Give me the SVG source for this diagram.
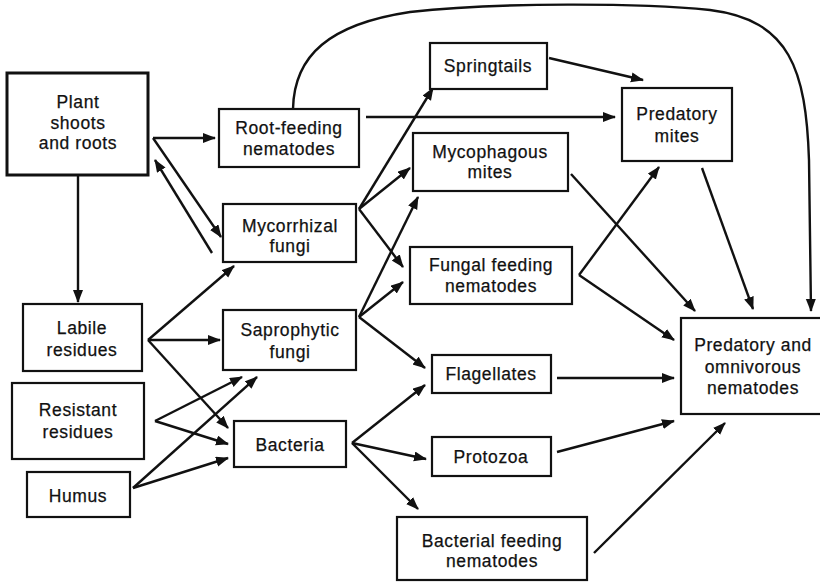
<svg xmlns="http://www.w3.org/2000/svg" width="820" height="582" viewBox="0 0 820 582">
<style>
.box{fill:#fff;stroke:#111;stroke-width:2.2}
.thick{stroke-width:3}
text{font-family:"Liberation Sans",Arial,Helvetica,sans-serif;font-size:17.5px;letter-spacing:0.6px;fill:#111;text-anchor:middle;stroke:#111;stroke-width:0.25}
.c{fill:none;stroke:#111;stroke-width:2.4}
</style>
<defs>
<marker id="ah" markerUnits="userSpaceOnUse" markerWidth="14" markerHeight="12" refX="12" refY="5" orient="auto">
<path d="M0,0 L13,5 L0,10 z" fill="#111"/>
</marker>
</defs>
<rect width="820" height="582" fill="#fff"/>
<g id="connectors">
<path class="c" d="M293,109 C294,55 330,24 410,12 C500,2 640,3 710,10 C790,20 806,70 809,160 L811,311" marker-end="url(#ah)"/>
<line class="c" x1="153" y1="138" x2="215" y2="138" marker-end="url(#ah)"/>
<line class="c" x1="153" y1="138" x2="221" y2="237" marker-end="url(#ah)"/>
<line class="c" x1="212" y1="253" x2="155" y2="160" marker-end="url(#ah)"/>
<line class="c" x1="78" y1="175" x2="78" y2="302" marker-end="url(#ah)"/>
<line class="c" x1="148" y1="340" x2="220" y2="340" marker-end="url(#ah)"/>
<line class="c" x1="148" y1="340" x2="234" y2="266" marker-end="url(#ah)"/>
<line class="c" x1="148" y1="340" x2="228" y2="428" marker-end="url(#ah)"/>
<line class="c" x1="155" y1="421" x2="242" y2="377" marker-end="url(#ah)"/>
<line class="c" x1="155" y1="421" x2="228" y2="444" marker-end="url(#ah)"/>
<line class="c" x1="133" y1="488" x2="257" y2="377" marker-end="url(#ah)"/>
<line class="c" x1="133" y1="488" x2="228" y2="458" marker-end="url(#ah)"/>
<line class="c" x1="359" y1="209" x2="433" y2="88" marker-end="url(#ah)"/>
<line class="c" x1="359" y1="209" x2="410" y2="168" marker-end="url(#ah)"/>
<line class="c" x1="359" y1="209" x2="403" y2="267" marker-end="url(#ah)"/>
<line class="c" x1="359" y1="317" x2="418" y2="197" marker-end="url(#ah)"/>
<line class="c" x1="359" y1="317" x2="403" y2="282" marker-end="url(#ah)"/>
<line class="c" x1="359" y1="317" x2="425" y2="368" marker-end="url(#ah)"/>
<line class="c" x1="352" y1="443" x2="425" y2="385" marker-end="url(#ah)"/>
<line class="c" x1="352" y1="443" x2="426" y2="459" marker-end="url(#ah)"/>
<line class="c" x1="352" y1="443" x2="418" y2="509" marker-end="url(#ah)"/>
<line class="c" x1="366" y1="117" x2="615" y2="117" marker-end="url(#ah)"/>
<line class="c" x1="549" y1="58" x2="643" y2="80" marker-end="url(#ah)"/>
<line class="c" x1="571" y1="174" x2="695" y2="311" marker-end="url(#ah)"/>
<line class="c" x1="579" y1="275" x2="659" y2="167" marker-end="url(#ah)"/>
<line class="c" x1="579" y1="275" x2="674" y2="340" marker-end="url(#ah)"/>
<line class="c" x1="702" y1="168" x2="753" y2="309" marker-end="url(#ah)"/>
<line class="c" x1="557" y1="378" x2="674" y2="378" marker-end="url(#ah)"/>
<line class="c" x1="557" y1="452" x2="674" y2="421" marker-end="url(#ah)"/>
<line class="c" x1="594" y1="553" x2="725" y2="423" marker-end="url(#ah)"/>
</g>
<g id="plant"><rect class="box thick" x="7" y="73" width="141" height="102"/><text x="78" y="108">Plant</text><text x="78" y="129">shoots</text><text x="78" y="149">and roots</text></g>
<g id="rootfeeding"><rect class="box" x="219" y="109" width="140" height="58"/><text x="289" y="134">Root-feeding</text><text x="289" y="155">nematodes</text></g>
<g id="mycorrhizal"><rect class="box" x="223" y="204" width="133" height="58"/><text x="290" y="232">Mycorrhizal</text><text x="290" y="252">fungi</text></g>
<g id="labile"><rect class="box" x="23" y="304" width="119" height="67"/><text x="82" y="334">Labile</text><text x="82" y="356">residues</text></g>
<g id="resistant"><rect class="box" x="12" y="383" width="132" height="76"/><text x="78" y="416">Resistant</text><text x="78" y="438">residues</text></g>
<g id="humus"><rect class="box" x="27" y="472" width="103" height="45"/><text x="78" y="502">Humus</text></g>
<g id="saprophytic"><rect class="box" x="223" y="310" width="133" height="60"/><text x="290" y="336">Saprophytic</text><text x="290" y="358">fungi</text></g>
<g id="bacteria"><rect class="box" x="234" y="421" width="112" height="46"/><text x="290" y="451">Bacteria</text></g>
<g id="springtails"><rect class="box" x="430" y="43" width="117" height="46"/><text x="488" y="72">Springtails</text></g>
<g id="mycophagous"><rect class="box" x="413" y="133" width="155" height="58"/><text x="490" y="158">Mycophagous</text><text x="490" y="178">mites</text></g>
<g id="fungalfeeding"><rect class="box" x="410" y="247" width="162" height="57"/><text x="491" y="271">Fungal feeding</text><text x="491" y="292">nematodes</text></g>
<g id="flagellates"><rect class="box" x="432" y="355" width="119" height="38"/><text x="491" y="380">Flagellates</text></g>
<g id="protozoa"><rect class="box" x="432" y="437" width="119" height="39"/><text x="491" y="463">Protozoa</text></g>
<g id="bacterialfeeding"><rect class="box" x="397" y="517" width="190" height="63"/><text x="492" y="547">Bacterial feeding</text><text x="492" y="567">nematodes</text></g>
<g id="predatorymites"><rect class="box" x="622" y="88" width="110" height="73"/><text x="677" y="120">Predatory</text><text x="677" y="142">mites</text></g>
<g id="predatoryomni"><rect class="box" x="681" y="318" width="145" height="96"/><text x="753" y="351">Predatory and</text><text x="753" y="373">omnivorous</text><text x="753" y="394">nematodes</text></g>
</svg>
